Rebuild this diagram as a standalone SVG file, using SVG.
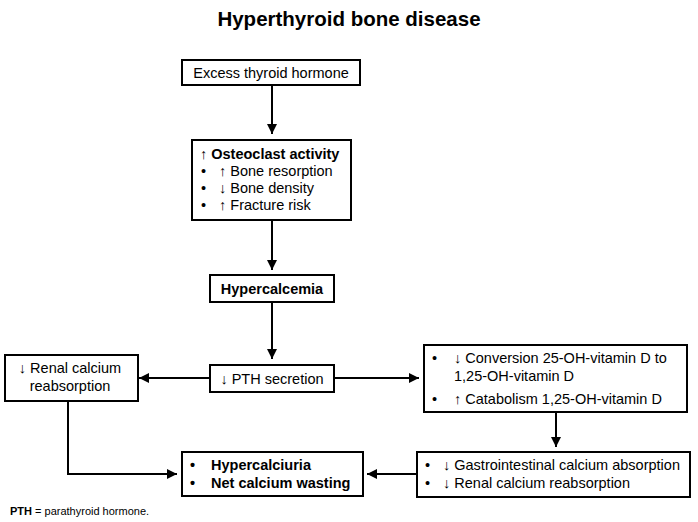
<svg xmlns="http://www.w3.org/2000/svg" width="698" height="522" viewBox="0 0 698 522">
<defs>
<marker id="ah" viewBox="0 0 10 10" refX="10" refY="5" markerWidth="10" markerHeight="10" markerUnits="userSpaceOnUse" orient="auto">
<path d="M0,0 L10,5 L0,10 z" fill="#000"/>
</marker>
</defs>
<style>
text{font-family:"Liberation Sans",Arial,sans-serif;font-size:14.5px;fill:#000}
.b{font-weight:bold}
.box{fill:#fff;stroke:#000;stroke-width:2}
.ln{fill:none;stroke:#000;stroke-width:2;marker-end:url(#ah)}
</style>
<rect width="698" height="522" fill="#fff"/>
<text x="349" y="26" text-anchor="middle" class="b" style="font-size:20.5px">Hyperthyroid bone disease</text>
<g id="connectors">
<line class="ln" x1="272" y1="85" x2="272" y2="134"/>
<line class="ln" x1="272" y1="220" x2="272" y2="270"/>
<line class="ln" x1="272" y1="302" x2="272" y2="359"/>
<line class="ln" x1="210" y1="378" x2="139" y2="378"/>
<line class="ln" x1="334" y1="378" x2="419" y2="378"/>
<line class="ln" x1="556" y1="412" x2="556" y2="447"/>
<line class="ln" x1="417" y1="474" x2="367" y2="474"/>
<path class="ln" d="M68,401 L68,474 L177,474"/>
</g>
<g id="n1">
<rect class="box" x="182" y="60" width="178" height="25"/>
<text x="271" y="78" text-anchor="middle">Excess thyroid hormone</text>
</g>
<g id="n2">
<rect class="box" x="192" y="140" width="159" height="80"/>
<text x="200" y="159" class="b">↑ Osteoclast activity</text>
<text x="201" y="176">•</text><text x="219" y="176">↑ Bone resorption</text>
<text x="201" y="193">•</text><text x="219" y="193">↓ Bone density</text>
<text x="201" y="210">•</text><text x="219" y="210">↑ Fracture risk</text>
</g>
<g id="n3">
<rect class="box" x="210" y="275" width="124" height="27"/>
<text x="272" y="294" text-anchor="middle" class="b">Hypercalcemia</text>
</g>
<g id="n4">
<rect class="box" x="210" y="365" width="124" height="27"/>
<text x="272" y="384" text-anchor="middle">↓ PTH secretion</text>
</g>
<g id="n5">
<rect class="box" x="5" y="355" width="133" height="46"/>
<text x="70" y="373" text-anchor="middle">↓ Renal calcium</text>
<text x="70" y="391" text-anchor="middle">reabsorption</text>
</g>
<g id="n6">
<rect class="box" x="424" y="345" width="263" height="67"/>
<text x="432" y="363">•</text><text x="454" y="363">↓ Conversion 25-OH-vitamin D to</text>
<text x="454" y="381">1,25-OH-vitamin D</text>
<text x="432" y="404">•</text><text x="454" y="404">↑ Catabolism 1,25-OH-vitamin D</text>
</g>
<g id="n7">
<rect class="box" x="417" y="452" width="273" height="45"/>
<text x="425" y="470">•</text><text x="443" y="470">↓ Gastrointestinal calcium absorption</text>
<text x="425" y="488">•</text><text x="443" y="488">↓ Renal calcium reabsorption</text>
</g>
<g id="n8">
<rect class="box" x="182" y="452" width="181" height="44"/>
<text x="190" y="470" class="b">•</text><text x="211" y="470" class="b">Hypercalciuria</text>
<text x="190" y="488" class="b">•</text><text x="211" y="488" class="b">Net calcium wasting</text>
</g>
<text x="10" y="515" style="font-size:11px"><tspan class="b">PTH</tspan> = parathyroid hormone.</text>
</svg>
